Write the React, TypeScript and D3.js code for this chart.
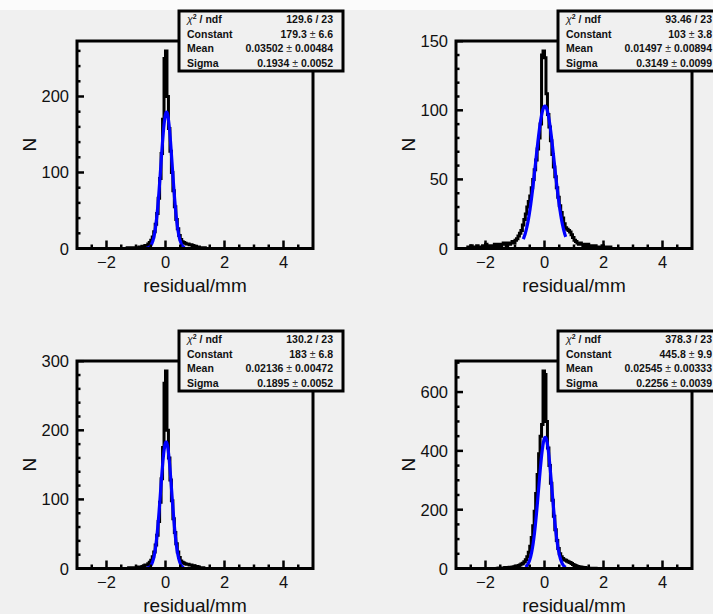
import React from 'react';
import * as d3 from 'd3';

// Histogram axis definition
const X_MIN = -3;
const X_MAX = 5;
const BIN_W = 0.05;

// Bin contents (lower edge of first listed bin, then counts every 0.05)
const tlStart = -1.3;
const tlCounts = [
  1, 0, 0, 1, 0, 1, 1, 0, 2, 1, 3, 2, 4, 4, 6, 8, 11, 15, 22, 32, 46, 66, 92, 125, 170,
  250, 260, 200, 158, 128, 100, 76, 55, 38, 26, 17, 12, 9, 8, 7, 6, 6, 5, 5, 4, 3, 3, 2, 2, 1, 1, 0, 1,
];

const trStart = -2.6;
const trCounts = [
  1, 0, 2, 1, 0, 1, 2, 1, 1, 0, 2, 1, 3, 1, 2, 1, 2, 1, 3, 2, 2, 3, 2, 3, 4, 3, 2, 4, 3, 4, 5, 4,
  6, 7, 9, 11, 13, 17, 21, 25, 30, 34, 38, 44, 50, 57, 64, 72, 80, 90, 140, 143,
  138, 112, 97, 88, 78, 68, 59, 52, 44, 37, 31, 26, 22, 18, 15, 14, 13, 12, 10, 8, 6, 5, 4, 3, 4, 3,
  2, 3, 2, 3, 2, 1, 2, 1, 2, 1, 1, 0, 1, 2, 1, 0, 1, 0, 1,
];

const blStart = -1.3;
const blCounts = [
  0, 1, 0, 1, 1, 0, 1, 2, 1, 2, 3, 4, 5, 5, 7, 9, 12, 17, 24, 34, 48, 68, 96, 130, 175,
  268, 286, 200, 160, 128, 98, 72, 52, 36, 24, 16, 11, 9, 8, 7, 6, 6, 5, 5, 4, 4, 3, 3, 2, 1, 1, 1, 0,
];

const brStart = -1.6;
const brCounts = [
  1, 2, 1, 2, 2, 3, 2, 3, 4, 4, 5, 6, 7, 8, 10, 12, 15, 18, 23, 30, 40, 55, 76, 105, 145, 195,
  255, 320, 390, 450, 490, 672, 660, 500, 410, 350, 290, 232, 178, 132, 95, 68, 50, 40, 34, 30, 28,
  25, 22, 20, 17, 14, 11, 9, 7, 6, 5, 4, 3, 3, 2, 2, 1, 1, 1, 0, 1,
];

// Gaussian fit results
const fitConstant = [179.3, 103, 183, 445.8];
const fitMean = [0.03502, 0.01497, 0.02136, 0.02545];
const fitSigma = [0.1934, 0.3149, 0.1895, 0.2256];
const fitLow = [-0.65, -0.72, -0.65, -0.65];
const fitHigh = [0.65, 0.72, 0.62, 0.72];

// Stats box texts
const chi2Text = ['129.6 / 23', '93.46 / 23', '130.2 / 23', '378.3 / 23'];
const constantText = ['179.3', '103', '183', '445.8'];
const constantErrText = ['6.6', '3.8', '6.8', '9.9'];
const meanText = ['0.03502', '0.01497', '0.02136', '0.02545'];
const meanErrText = ['0.00484', '0.00894', '0.00472', '0.00333'];
const sigmaText = ['0.1934', '0.3149', '0.1895', '0.2256'];
const sigmaErrText = ['0.0052', '0.0099', '0.0052', '0.0039'];

// Axis ticks
const xMajorTicks = [-2, 0, 2, 4];
const xMajorLabels = ['\u22122', '0', '2', '4'];
const yMajorStep = [100, 50, 100, 200];
const yMinorStep = [20, 10, 20, 50];
const xTitle = 'residual/mm';
const yTitle = 'N';

const starts = [tlStart, trStart, blStart, brStart];
const countsList = [tlCounts, trCounts, blCounts, brCounts];

const W = 713;
const H = 614;
const BG = '#f0f0f0';
const FONT = '"Liberation Sans", Arial, Helvetica, sans-serif';

const padOrigins: [number, number][] = [
  [0, 0],
  [379, 0],
  [0, 320],
  [379, 320],
];

function Panel({ idx }: { idx: number }) {
  const [ox, oy] = padOrigins[idx];
  const fl = ox + 77;
  const fr = ox + 313;
  const ft = oy + 41;
  const fb = oy + 248.5;

  const nBins = Math.round((X_MAX - X_MIN) / BIN_W);
  const full = new Array(nBins).fill(0);
  const off = Math.round((starts[idx] - X_MIN) / BIN_W);
  countsList[idx].forEach((c, i) => {
    full[off + i] = c;
  });
  const maxC = d3.max(full) as number;
  const yMax = maxC * 1.05;

  const x = d3.scaleLinear().domain([X_MIN, X_MAX]).range([fl, fr]);
  const y = d3.scaleLinear().domain([0, yMax]).range([fb, ft]);

  const pts: [number, number][] = full.map((c, i) => [X_MIN + i * BIN_W, c]);
  pts.push([X_MAX, full[nBins - 1]]);
  const histPath = d3
    .line<[number, number]>()
    .x((d) => x(d[0]))
    .y((d) => y(d[1]))
    .curve(d3.curveStepAfter)(pts) as string;

  const C = fitConstant[idx];
  const mu = fitMean[idx];
  const sg = fitSigma[idx];
  const fx = d3.range(fitLow[idx], fitHigh[idx] + 1e-9, 0.005);
  const fitPath = d3
    .line<number>()
    .x((d) => x(d))
    .y((d) => y(C * Math.exp(-0.5 * ((d - mu) / sg) ** 2)))(fx) as string;

  const xMinor = d3.range(-2.5, X_MAX, 0.5).filter((v) => !xMajorTicks.some((m) => Math.abs(m - v) < 1e-9));
  const yMajors = d3.range(0, yMax + 1e-9, yMajorStep[idx]);
  const yMinors = d3.range(0, yMax, yMinorStep[idx]).filter((v) => v % yMajorStep[idx] !== 0);

  const clipId = `clip${idx}`;
  const bx0 = ox + 179;
  const bx1 = ox + 343;
  const by0 = oy + 11;
  const by1 = oy + 71;
  const rows = [oy + 23, oy + 37.5, oy + 52, oy + 66.5];
  const lx = bx0 + 8;
  const rx = bx1 - 10;
  const pm = (v: string, e: string) => (
    <>
      <tspan>{v}</tspan>
      <tspan fontWeight="normal" fill="#333">{' \u00b1 '}</tspan>
      <tspan>{e}</tspan>
    </>
  );

  return (
    <g>
      <defs>
        <clipPath id={clipId}>
          <rect x={fl} y={ft} width={fr - fl} height={fb - ft} />
        </clipPath>
      </defs>
      <g clipPath={`url(#${clipId})`}>
        <path d={histPath} fill="none" stroke="#000" strokeWidth={3} strokeLinejoin="miter" />
        <path d={fitPath} fill="none" stroke="#0000ff" strokeWidth={3.2} />
      </g>
      {/* ticks */}
      {xMajorTicks.map((v) => (
        <line key={`xM${v}`} x1={x(v)} x2={x(v)} y1={fb} y2={fb - 8} stroke="#000" strokeWidth={2.5} />
      ))}
      {xMinor.map((v) => (
        <line key={`xm${v}`} x1={x(v)} x2={x(v)} y1={fb} y2={fb - 4} stroke="#000" strokeWidth={2.5} />
      ))}
      {yMajors.map((v) => (
        <line key={`yM${v}`} x1={fl} x2={fl + 7} y1={y(v)} y2={y(v)} stroke="#000" strokeWidth={2.5} />
      ))}
      {yMinors.map((v) => (
        <line key={`ym${v}`} x1={fl} x2={fl + 3.5} y1={y(v)} y2={y(v)} stroke="#000" strokeWidth={2.5} />
      ))}
      {/* frame */}
      <rect x={fl} y={ft} width={fr - fl} height={fb - ft} fill="none" stroke="#000" strokeWidth={3} />
      {/* tick labels */}
      {xMajorTicks.map((v, i) => (
        <text key={`xl${v}`} x={x(v)} y={fb + 19} textAnchor="middle" fontSize={16.5} fontFamily={FONT} fill="#111">
          {xMajorLabels[i]}
        </text>
      ))}
      {yMajors.map((v) => (
        <text key={`yl${v}`} x={fl - 8} y={y(v) + 6} textAnchor="end" fontSize={16.5} fontFamily={FONT} fill="#111">
          {v}
        </text>
      ))}
      <text x={(fl + fr) / 2} y={fb + 43} textAnchor="middle" fontSize={19} fontFamily={FONT} fill="#111">
        {xTitle}
      </text>
      <text
        transform={`translate(${fl - 48},${(ft + fb) / 2}) rotate(-90)`}
        textAnchor="middle"
        dominantBaseline="central"
        fontSize={19}
        fontFamily={FONT}
        fill="#111"
      >
        {yTitle}
      </text>
      {/* stats box */}
      <rect x={bx0} y={by0} width={bx1 - bx0} height={by1 - by0} fill={BG} stroke="#000" strokeWidth={3} />
      <g fontFamily={FONT} fontSize={10.5} fontWeight="bold" fill="#111">
        <text x={lx} y={rows[0]}>
          <tspan fontWeight="normal" fontStyle="italic">χ</tspan>
          <tspan fontSize={7} dy={-4}>2</tspan>
          <tspan dy={4}>{' / ndf'}</tspan>
        </text>
        <text x={rx} y={rows[0]} textAnchor="end">{chi2Text[idx]}</text>
        <text x={lx} y={rows[1]}>Constant</text>
        <text x={rx} y={rows[1]} textAnchor="end">{pm(constantText[idx], constantErrText[idx])}</text>
        <text x={lx} y={rows[2]}>Mean</text>
        <text x={rx} y={rows[2]} textAnchor="end">{pm(meanText[idx], meanErrText[idx])}</text>
        <text x={lx} y={rows[3]}>Sigma</text>
        <text x={rx} y={rows[3]} textAnchor="end">{pm(sigmaText[idx], sigmaErrText[idx])}</text>
      </g>
    </g>
  );
}

export default function App() {
  return (
    <svg
      width={W}
      height={H}
      viewBox={`0 0 ${W} ${H}`}
      style={{ position: 'absolute', left: 0, top: 0, display: 'block' }}
    >
      <rect x={0} y={0} width={W} height={H} fill={BG} />
      <rect x={0} y={0} width={W} height={10} fill="#fbfbfb" />
      {[0, 1, 2, 3].map((i) => (
        <Panel key={i} idx={i} />
      ))}
    </svg>
  );
}
